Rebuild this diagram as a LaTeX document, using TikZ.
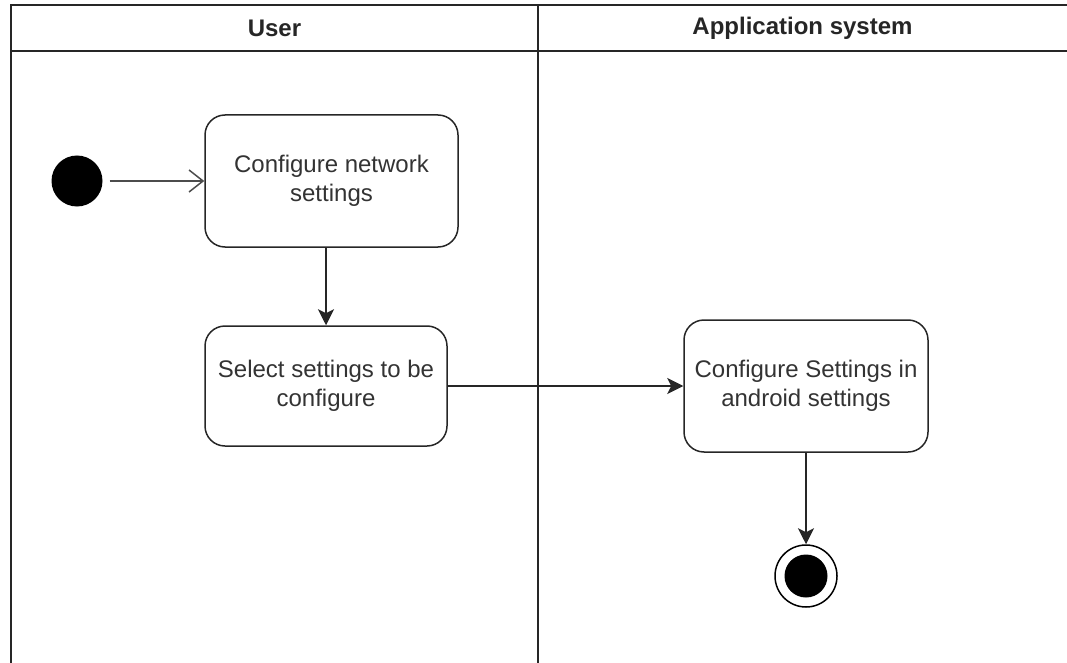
\documentclass[tikz,border=0pt]{standalone}
\usepackage{fontspec}
\setmainfont{Liberation Sans}
\usetikzlibrary{arrows.meta}
\begin{document}
\begin{tikzpicture}[x=1pt,y=-1pt,
  lane/.style={line width=1.5pt, draw=black!85},
  lanehead/.style={font=\fontsize{24}{29}\selectfont\bfseries, text=black!85, inner sep=0pt},
  action/.style={draw=black!85, line width=1.5pt, rounded corners=20pt, align=center,
    font=\fontsize{24}{29}\selectfont, text=black!80, inner sep=0pt},
  flow/.style={line width=1.5pt, draw=black!85, -{Stealth[length=16pt,width=16pt,inset=4pt]}},
  openflow/.style={line width=1.5pt, draw=black!70, -{Straight Barb[length=14pt,width=22pt,line width=1.5pt]}},
  startstate/.style={circle, fill=black, minimum size=51pt, inner sep=0pt},
  endstate/.style={circle, draw=black, line width=1.5pt, minimum size=62pt, inner sep=0pt}
]
\useasboundingbox (0,0) rectangle (1067,663);

% swimlane frame
\draw[lane] (11,663) -- (11,5) -- (1067,5);
\draw[lane] (11,51) -- (1067,51);
\draw[lane] (538,5) -- (538,663);
\node[lanehead] (hUser) at (274.5,28) {User};
\node[lanehead] (hApp) at (802.5,28) {Application system};

% activities
\node[startstate] (start) at (77,181) {};
\node[action, minimum width=253pt, minimum height=132pt] (cfg) at (331.5,181) {Configure network\\settings};
\node[action, minimum width=242pt, minimum height=120pt] (sel) at (326,386) {Select settings to be\\configure};
\node[action, minimum width=244pt, minimum height=132pt] (cfgs) at (806,386) {Configure Settings in\\android settings};
\node[endstate] (end) at (806,576) {};
\fill[black] (end.center) circle (21.5pt);

% control flow
\draw[openflow, shorten <=7pt] (start) -- (cfg.west);
\draw[flow] (sel.north |- cfg.south) -- (sel.north);
\draw[flow] (sel.east) -- (cfgs.west);
\draw[flow] (cfgs.south) -- (end.north);
\end{tikzpicture}
\end{document}
